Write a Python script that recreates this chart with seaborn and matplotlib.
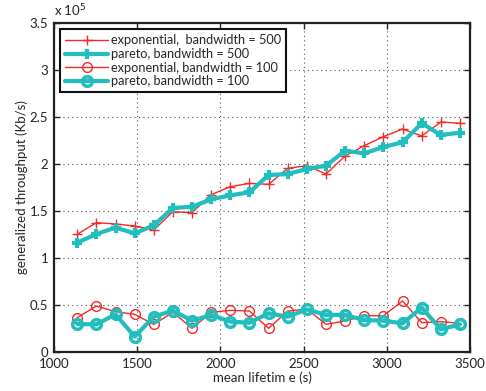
import numpy as np
import pandas as pd
import matplotlib
matplotlib.use("Agg")
import matplotlib.pyplot as plt
from matplotlib.ticker import FuncFormatter, MultipleLocator
import seaborn as sns

# mean lifetime (s)
lifetime = [1140, 1255, 1370, 1485, 1600, 1715, 1830, 1945, 2060, 2175, 2290,
            2405, 2520, 2635, 2750, 2865, 2980, 3095, 3210, 3325, 3440]

# generalized throughput (Kb/s)
exp_500 = [125200, 137600, 136200, 134000, 129800, 149300, 148200, 167400,
           175900, 179400, 178400, 195400, 198200, 189400, 208500, 219500,
           229100, 237200, 229800, 244700, 243300]
pareto_500 = [116300, 125500, 132300, 126200, 134800, 153200, 154600, 162400,
              166700, 169900, 188300, 189400, 194700, 198200, 214200, 211300,
              218100, 223100, 243300, 230900, 233300]
exp_100 = [36500, 48900, 42900, 40100, 29400, 42200, 25200, 42200, 44300,
           43600, 25200, 43600, 45700, 29400, 33000, 38600, 38600, 54300,
           31200, 32300, 30500]
pareto_100 = [29800, 29400, 40100, 16300, 37600, 44000, 33300, 39400, 32300,
              31200, 41100, 37600, 45400, 39400, 39400, 34000, 33300, 30500,
              47200, 24100, 29400]

labels = ["exponential,  bandwidth = 500", "pareto, bandwidth = 500",
          "exponential, bandwidth = 100", "pareto, bandwidth = 100"]

RED = "#F22A2A"
CYAN = "#22BDBD"

sns.set_style("ticks")
plt.rcParams["font.family"] = ["Lato", "DejaVu Sans"]

fig = plt.figure(figsize=(4.86, 3.91), dpi=100)
ax = fig.add_axes([0.111, 0.0997, 0.856, 0.8415])

df = pd.DataFrame({"x": lifetime, "e500": exp_500, "p500": pareto_500,
                   "e100": exp_100, "p100": pareto_100})

sns.lineplot(data=df, x="x", y="e500", ax=ax, color=RED, lw=1.0,
             marker="+", ms=7, mew=1.0, mec=RED, label=labels[0])
sns.lineplot(data=df, x="x", y="p500", ax=ax, color=CYAN, lw=3.0,
             marker="+", ms=6.5, mew=3.0, mec=CYAN, label=labels[1])
sns.lineplot(data=df, x="x", y="e100", ax=ax, color=RED, lw=1.0,
             marker="o", ms=7, mew=1.0, mec=RED, mfc="none", label=labels[2])
sns.lineplot(data=df, x="x", y="p100", ax=ax, color=CYAN, lw=3.0,
             marker="o", ms=7, mew=2.5, mec=CYAN, mfc="none", label=labels[3])

ax.set_xlim(1000, 3500)
ax.set_ylim(0, 350000)
ax.xaxis.set_major_locator(MultipleLocator(500))
ax.yaxis.set_major_locator(MultipleLocator(50000))
ax.yaxis.set_major_formatter(FuncFormatter(lambda v, p: f"{v / 1e5:g}"))
ax.text(0.0, 1.012, r"x 10$^{5}$", transform=ax.transAxes, ha="left",
        va="bottom", fontsize=9.5, color="#222222")

ax.grid(True, linestyle=(0, (1, 3)), color="#555555", linewidth=0.8)
ax.tick_params(direction="in", top=True, right=True, labelsize=9.5,
               length=4, width=1, colors="#222222", pad=4)
for s in ax.spines.values():
    s.set_color("#222222")
    s.set_linewidth(1.6)

ax.set_xlabel("mean lifetim e (s)", fontsize=9.5, labelpad=1)
ax.set_ylabel("generalized throughput (Kb/s)", fontsize=9.5)
ax.yaxis.set_label_coords(-0.062, 0.5)

leg = ax.legend(loc="upper left", fontsize=9.2, handlelength=3.3,
                frameon=True, fancybox=False, borderpad=0.4,
                labelspacing=0.12, handletextpad=0.25,
                borderaxespad=0.5)
leg.get_frame().set_edgecolor("#111111")
leg.get_frame().set_linewidth(1.5)
leg.get_frame().set_alpha(1)

fig.savefig("out.png", dpi=100)
